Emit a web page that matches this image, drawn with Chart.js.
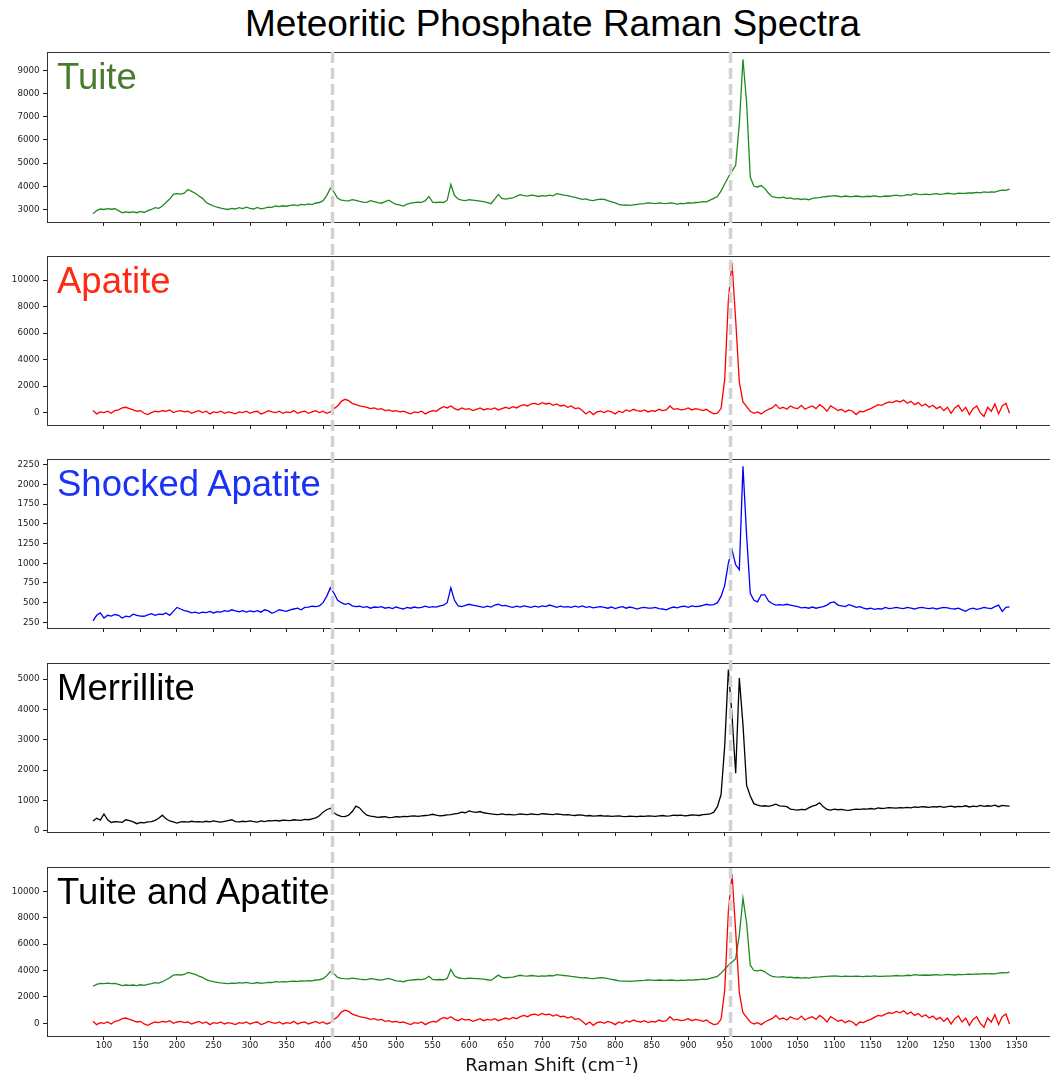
<!DOCTYPE html>
<html><head><meta charset="utf-8">
<script src="https://cdn.jsdelivr.net/npm/chart.js@4.4.0/dist/chart.umd.min.js"></script>
<style>
html,body{margin:0;padding:0;overflow:hidden;background:#fff;width:1050px;height:1077px;}
canvas{position:absolute;left:0;}
.lbl{position:absolute;left:57px;font-family:'Liberation Sans',Arial,sans-serif;font-size:36.5px;line-height:1;white-space:nowrap;z-index:5;}
#title{position:absolute;left:0;width:1105px;top:5px;text-align:center;font-family:'Liberation Sans',Arial,sans-serif;font-size:37px;line-height:1;color:#000;white-space:nowrap;}
#overlay{z-index:4;pointer-events:none;}
</style></head><body>
<div id="title">Meteoritic Phosphate Raman Spectra</div>
<div id="holder"></div>
<canvas id="overlay" width="1070" height="1077" style="top:0"></canvas>
<script>
// ---- data ----
const wavenumberStart = 85, wavenumberStep = 5;
const tuite = [2810,2950,3020,3000,3040,3010,3030,2950,2860,2900,
 2870,2900,2860,2920,2870,2950,3000,3080,3050,3150,
 3300,3450,3650,3680,3660,3700,3860,3780,3700,3580,
 3480,3300,3220,3150,3100,3060,3030,3000,3050,3020,
 3080,3040,3100,3050,3020,3090,3030,3060,3100,3090,
 3150,3120,3160,3140,3180,3200,3170,3220,3200,3240,
 3210,3280,3300,3380,3600,3920,3750,3480,3400,3380,
 3370,3420,3390,3350,3320,3310,3380,3340,3300,3270,
 3340,3400,3300,3220,3200,3150,3230,3270,3300,3320,
 3310,3380,3560,3320,3300,3320,3300,3400,4080,3600,
 3450,3400,3380,3420,3400,3380,3360,3340,3300,3250,
 3450,3650,3480,3450,3480,3500,3580,3640,3600,3580,
 3620,3600,3560,3600,3580,3620,3590,3680,3650,3620,
 3600,3550,3520,3480,3440,3460,3400,3380,3420,3450,
 3440,3380,3330,3280,3220,3190,3200,3180,3200,3220,
 3240,3250,3280,3270,3250,3280,3260,3250,3280,3260,
 3230,3260,3250,3290,3270,3300,3310,3340,3330,3400,
 3480,3560,3800,4100,4400,4650,4900,6700,9470,7600,
 4400,4000,3970,4030,3900,3700,3550,3520,3500,3530,
 3480,3500,3450,3470,3430,3460,3420,3480,3500,3510,
 3540,3560,3580,3600,3570,3540,3580,3560,3550,3580,
 3560,3540,3570,3560,3590,3560,3550,3580,3570,3600,
 3620,3590,3600,3640,3620,3680,3650,3640,3660,3640,
 3660,3680,3650,3670,3700,3680,3660,3700,3690,3700,
 3720,3710,3740,3720,3760,3740,3760,3750,3800,3830,
 3820,3880];
const apatite = [150,-100,50,0,100,-50,150,200,350,400,
 300,200,100,150,-50,-150,0,100,50,150,
 100,200,0,100,150,50,100,-50,50,150,
 0,100,-100,50,0,100,-50,50,0,-100,
 50,0,100,-50,50,100,-100,0,150,50,
 0,100,-50,50,0,150,-50,50,100,-50,
 50,150,0,100,-50,50,300,500,850,1000,
 900,700,600,500,450,400,300,350,250,300,
 150,200,100,150,50,100,0,-100,50,0,
 100,-100,50,150,100,300,450,350,500,300,
 200,350,250,300,150,250,350,200,300,250,
 350,200,300,400,300,450,350,500,600,500,
 650,700,600,750,650,700,550,650,500,550,
 400,500,300,350,150,-100,100,-150,50,100,
 0,150,50,-100,100,0,200,100,250,150,
 100,200,50,150,100,250,150,200,500,250,
 300,200,250,350,200,300,250,150,250,50,
 -100,-50,300,2500,8500,11300,7000,2300,800,450,
 100,-50,50,-100,100,250,350,600,300,400,
 250,500,350,300,550,250,400,500,300,600,
 400,100,500,350,150,250,50,200,100,-150,
 100,50,200,300,450,600,550,700,800,750,
 900,800,950,700,850,600,750,500,650,400,
 550,300,450,150,400,-50,350,550,100,400,
 -150,300,500,0,-300,400,100,650,-100,500,
 700,-50];
const shockedApatite = [270,340,370,305,340,330,350,340,305,330,
 320,355,340,330,328,345,360,340,355,350,
 370,340,390,440,420,400,390,370,380,365,
 380,375,390,370,385,380,400,390,410,395,
 385,400,380,395,385,400,380,410,395,365,
 385,410,400,390,410,420,430,410,440,445,
 455,450,460,500,580,690,620,530,500,480,
 490,460,450,455,440,450,430,445,440,450,
 430,440,425,445,430,420,440,430,445,435,
 440,455,440,450,445,460,470,500,690,530,
 460,450,465,480,470,460,450,440,455,445,
 470,480,460,465,450,440,455,445,460,450,
 440,455,445,460,450,470,455,440,455,445,
 450,440,455,445,460,440,450,435,445,450,
 440,430,445,425,440,450,430,445,435,420,
 435,440,430,432,440,425,420,410,430,445,
 435,450,455,440,460,450,455,465,480,470,
 475,500,580,720,1000,1170,980,920,2230,1350,
 620,530,510,600,600,520,490,470,475,470,
 480,470,460,450,435,440,430,445,430,440,
 450,470,500,510,470,460,450,475,460,440,
 450,430,420,430,415,425,420,440,425,430,
 440,430,425,440,430,420,435,440,430,425,
 435,420,430,440,435,425,420,430,410,390,
 420,430,415,425,440,430,425,450,470,390,
 440,446];
const merrillite = [330,420,360,560,370,280,310,300,285,370,
 340,300,240,280,270,300,310,350,420,520,
 400,330,300,260,300,310,290,320,300,310,
 290,320,300,330,310,290,320,340,370,310,
 300,320,310,330,310,290,330,310,340,330,
 350,330,360,350,340,370,360,350,380,370,
 400,430,500,620,700,750,600,520,480,470,
 520,640,820,760,620,520,490,470,450,460,
 470,440,450,470,460,480,470,490,500,480,
 500,510,520,550,520,500,510,530,540,560,
 580,620,600,660,630,610,640,600,580,560,
 550,540,560,540,550,530,540,560,550,540,
 560,550,540,570,560,550,540,560,550,530,
 540,520,510,530,520,500,510,490,500,510,
 490,500,480,490,500,480,470,490,480,470,
 490,480,500,490,480,500,510,490,500,520,
 510,520,500,510,530,520,510,540,550,560,
 620,800,1200,2800,5310,3800,1900,5030,3500,1500,
 1150,900,850,820,830,810,840,880,830,820,
 800,720,700,690,710,700,760,820,850,930,
 800,710,690,720,700,710,690,680,700,720,
 710,730,720,740,720,760,740,750,770,760,
 750,770,760,780,760,790,780,800,790,780,
 800,790,810,780,800,820,790,810,800,830,
 790,820,800,840,810,830,820,850,800,840,
 830,820];
const xTickLabels = [100,150,200,250,300,350,400,450,500,550,600,650,700,750,800,850,900,950,1000,1050,1100,1150,1200,1250,1300,1350];
const yTicksTuite = [3000,4000,5000,6000,7000,8000,9000];
const yTicksApatite = [0,2000,4000,6000,8000,10000];
const yTicksShocked = [250,500,750,1000,1250,1500,1750,2000,2250];
const yTicksMerrillite = [0,1000,2000,3000,4000,5000];
const yTicksCombined = [0,2000,4000,6000,8000,10000];
const markerLines = [413, 958];
const panelLabels = ['Tuite','Apatite','Shocked Apatite','Merrillite','Tuite and Apatite'];

const wavenumbers = tuite.map((_, i) => wavenumberStart + wavenumberStep * i);
const pts = arr => arr.map((y, i) => ({x: wavenumbers[i], y}));

// ---- styles / layout ----
const GREEN = '#1f8a1f', RED = '#ff0000', BLUE = '#0000ff', BLACK = '#000000';
const panels = [
  {sets:[{d:tuite,c:GREEN}], yMin:2460, yMax:9790, yTicks:yTicksTuite, lc:'#4a7a2c'},
  {sets:[{d:apatite,c:RED}], yMin:-937, yMax:11814, yTicks:yTicksApatite, lc:'#ff2a14'},
  {sets:[{d:shockedApatite,c:BLUE}], yMin:179, yMax:2322, yTicks:yTicksShocked, lc:'#1a33f5'},
  {sets:[{d:merrillite,c:BLACK}], yMin:-33, yMax:5528, yTicks:yTicksMerrillite, lc:'#000'},
  {sets:[{d:apatite,c:RED},{d:tuite,c:GREEN}], yMin:-960, yMax:11837, yTicks:yTicksCombined, lc:'#000'}
];
const panelTops = [52, 256, 459, 663, 867];
const panelHeights = [170, 169, 169, 169, 169];
const PAD_TOP = 10, CANVAS_W = 1070, AREA_RIGHT = 1057, Y_W = 47;

Chart.defaults.font.family = "'DejaVu Sans', sans-serif";
Chart.defaults.font.size = 8.7;
Chart.defaults.color = '#222';

const framePlugin = {id:'frame', afterDraw(chart){
  const {ctx, chartArea:a} = chart;
  ctx.save(); ctx.strokeStyle = '#333'; ctx.lineWidth = 1;
  ctx.strokeRect(Math.round(a.left)+0.5, Math.round(a.top)+0.5, Math.round(a.right-a.left), Math.round(a.bottom-a.top));
  ctx.restore();
}};

const holder = document.getElementById('holder');
const charts = [];
const canvasTops = [];
panels.forEach((p, i) => {
  const last = i === panels.length - 1;
  const xH = last ? 41 : 12;
  const cv = document.createElement('canvas');
  const top = panelTops[i] - PAD_TOP;
  canvasTops.push(top);
  cv.width = CANVAS_W; cv.height = PAD_TOP + panelHeights[i] + xH;
  cv.style.top = top + 'px';
  holder.appendChild(cv);
  const lbl = document.createElement('div');
  lbl.className = 'lbl'; lbl.textContent = panelLabels[i]; lbl.style.color = p.lc;
  lbl.style.top = (panelTops[i] + 7) + 'px';
  document.body.appendChild(lbl);
  charts.push(new Chart(cv, {
    type: 'line',
    data: {datasets: p.sets.map(s => ({data: pts(s.d), borderColor: s.c, borderWidth: 1.3, pointRadius: 0, tension: 0, fill: false}))},
    options: {
      animation: false, responsive: false, events: [],
      layout: {padding: {top: PAD_TOP, right: CANVAS_W - AREA_RIGHT, left: 0, bottom: 0}},
      plugins: {legend: {display: false}, tooltip: {enabled: false}},
      scales: {
        x: {type: 'linear', min: 22, max: 1405,
          afterBuildTicks: s => { s.ticks = xTickLabels.map(v => ({value: v})); },
          afterFit: s => { s.height = xH; },
          border: {display: false},
          grid: {drawOnChartArea: false, drawTicks: true, tickLength: 4, tickColor: '#222'},
          ticks: {display: last, padding: 1, color: '#222', callback: v => String(v), maxRotation: 0, autoSkip: false},
          title: {display: last, text: 'Raman Shift (cm\u207B\u00B9)', font: {size: 18}, color: '#111', padding: 0}
        },
        y: {type: 'linear', min: p.yMin, max: p.yMax,
          afterBuildTicks: s => { s.ticks = p.yTicks.map(v => ({value: v})); },
          afterFit: s => { s.width = Y_W; },
          border: {display: false},
          grid: {drawOnChartArea: false, drawTicks: true, tickLength: 4, tickColor: '#222'},
          ticks: {padding: 3.5, color: '#222', callback: v => String(v), autoSkip: false}
        }
      }
    },
    plugins: [framePlugin]
  }));
});

// dashed reference lines across all panels
const ov = document.getElementById('overlay').getContext('2d');
const lastChart = charts[charts.length - 1];
const yTop = canvasTops[0] + charts[0].chartArea.top;
const yBot = canvasTops[canvasTops.length - 1] + lastChart.chartArea.bottom + 1;
ov.strokeStyle = '#d2d2d2'; ov.lineWidth = 3.5; ov.setLineDash([11, 5]);
markerLines.forEach(v => {
  const x = lastChart.scales.x.getPixelForValue(v);
  ov.beginPath(); ov.moveTo(x, yTop); ov.lineTo(x, yBot); ov.stroke();
});
</script>
</body></html>
